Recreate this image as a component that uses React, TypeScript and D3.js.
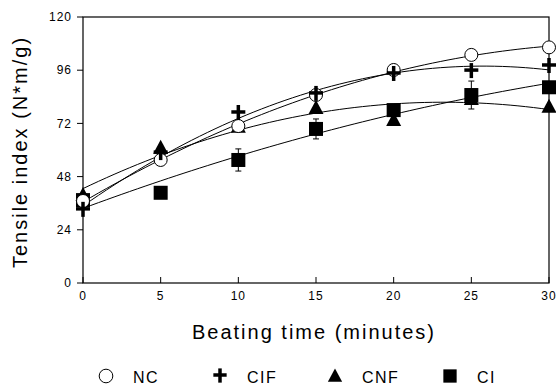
import * as d3 from "d3";

const WIDTH = 556;
const HEIGHT = 387;
const MARGIN = { top: 17, right: 7, bottom: 104, left: 83 };

// beating time (minutes)
const times = [0, 5, 10, 15, 20, 25, 30];
const yTicks = [0, 24, 48, 72, 96, 120];

// tensile index (N*m/g)
const nc = [37, 55.5, 70.8, 84.8, 96.1, 102.9, 106.3];
const cif = [33, 58.6, 76.7, 85.3, 94.3, 95.6, 97.9];
const cnf = [39.7, 61, 70.5, 78.9, 73.5, 83, 79.5];
const ci = [37.4, 40.7, 55.5, 69.5, 78, 84.8, 88.3];

// error bars (half width), 0 = none visible
const ncErr = [0, 0, 0, 0, 0, 0, 1.5];
const ciErr = [0, 0, 5, 4.5, 0, 6.3, 0];

const seriesNames = ["NC", "CIF", "CNF", "CI"];

const FONT = "'Liberation Sans', Arial, Helvetica, sans-serif";

// least squares quadratic fit, as the fitted curves of the original
function quadFit(xs: number[], ys: number[]) {
  const s = [0, 0, 0, 0, 0];
  const t = [0, 0, 0];
  xs.forEach((x, i) => {
    for (let k = 0; k < 5; k++) s[k] += Math.pow(x, k);
    for (let k = 0; k < 3; k++) t[k] += Math.pow(x, k) * ys[i];
  });
  const m = [
    [s[0], s[1], s[2], t[0]],
    [s[1], s[2], s[3], t[1]],
    [s[2], s[3], s[4], t[2]],
  ];
  for (let c = 0; c < 3; c++) {
    for (let r = c + 1; r < 3; r++) {
      const f = m[r][c] / m[c][c];
      for (let k = c; k < 4; k++) m[r][k] -= f * m[c][k];
    }
  }
  const b = [0, 0, 0];
  for (let r = 2; r >= 0; r--) {
    let v = m[r][3];
    for (let k = r + 1; k < 3; k++) v -= m[r][k] * b[k];
    b[r] = v / m[r][r];
  }
  return (x: number) => b[0] + b[1] * x + b[2] * x * x;
}

function Marker({ kind, x, y, s = 1 }: { kind: string; x: number; y: number; s?: number }) {
  if (kind === "NC")
    return <circle cx={x} cy={y} r={6.5 * s} fill="white" stroke="black" strokeWidth={1} />;
  if (kind === "CIF")
    return (
      <g stroke="black" strokeWidth={3.5}>
        <line x1={x - 7 * s} x2={x + 7 * s} y1={y - 1} y2={y - 1} />
        <line x1={x} x2={x} y1={y - 8 * s} y2={y + 7 * s} />
      </g>
    );
  if (kind === "CNF")
    return (
      <path
        d={`M${x},${y - 8 * s}L${x + 7.5 * s},${y + 6 * s}L${x - 7.5 * s},${y + 6 * s}Z`}
        fill="black"
      />
    );
  return <rect x={x - 7 * s} y={y - 7 * s} width={14 * s} height={14 * s} fill="black" />;
}

export default function App() {
  const x = d3
    .scaleLinear()
    .domain([0, 30])
    .range([MARGIN.left, WIDTH - MARGIN.right]);
  const y = d3
    .scaleLinear()
    .domain([0, 120])
    .range([HEIGHT - MARGIN.bottom, MARGIN.top]);

  const all = [nc, cif, cnf, ci];
  const samples = d3.range(0, 30.01, 0.5);
  const line = d3
    .line<number[]>()
    .x((d) => x(d[0]))
    .y((d) => y(d[1]));

  const x0 = x(0);
  const x1 = x(30);
  const y0 = y(0);
  const y1 = y(120);

  const errBar = (vals: number[], errs: number[]) =>
    vals.map((v, i) =>
      errs[i] > 0 ? (
        <g key={i} stroke="black" strokeWidth={1}>
          <line x1={x(times[i])} x2={x(times[i])} y1={y(v + errs[i])} y2={y(v - errs[i])} />
          <line x1={x(times[i]) - 3} x2={x(times[i]) + 3} y1={y(v + errs[i])} y2={y(v + errs[i])} />
          <line x1={x(times[i]) - 3} x2={x(times[i]) + 3} y1={y(v - errs[i])} y2={y(v - errs[i])} />
        </g>
      ) : null
    );

  const legendX = [106, 220, 335, 450];

  return (
    <svg
      width={WIDTH}
      height={HEIGHT}
      style={{ position: "absolute", left: 0, top: 0, background: "white" }}
      fontFamily={FONT}
    >
      <rect x={x0} y={y1} width={x1 - x0} height={y0 - y1} fill="none" stroke="black" strokeWidth={1.2} />

      {/* y axis ticks (outward) */}
      {yTicks.map((t) => (
        <g key={t}>
          <line x1={x0 - 6} x2={x0} y1={y(t)} y2={y(t)} stroke="black" />
          <text
            x={x0 - 11}
            y={y(t)}
            dy="0.35em"
            textAnchor="end"
            fontSize={12}
            letterSpacing={1}
          >
            {t}
          </text>
        </g>
      ))}

      {/* x axis ticks (inward) */}
      {times.map((t) => (
        <g key={t}>
          <line x1={x(t)} x2={x(t)} y1={y0} y2={y0 - 6} stroke="black" />
          <text x={x(t)} y={y0 + 13} dy="0.35em" textAnchor="middle" fontSize={12} letterSpacing={1}>
            {t}
          </text>
        </g>
      ))}

      {/* fitted curves */}
      {all.map((vals, i) => {
        const f = quadFit(times, vals);
        return (
          <path
            key={i}
            d={line(samples.map((s) => [s, f(s)])) || ""}
            fill="none"
            stroke="black"
            strokeWidth={1}
          />
        );
      })}

      {errBar(nc, ncErr)}
      {errBar(ci, ciErr)}

      {ci.map((v, i) => (
        <Marker key={"ci" + i} kind="CI" x={x(times[i])} y={y(v)} />
      ))}
      {cnf.map((v, i) => (
        <Marker key={"cnf" + i} kind="CNF" x={x(times[i])} y={y(v)} />
      ))}
      {nc.map((v, i) => (
        <Marker key={"nc" + i} kind="NC" x={x(times[i])} y={y(v)} />
      ))}
      {cif.map((v, i) => (
        <Marker key={"cif" + i} kind="CIF" x={x(times[i])} y={y(v)} />
      ))}

      {/* axis titles */}
      <text x={314} y={332} dy="0.35em" textAnchor="middle" fontSize={20} letterSpacing={2}>
        Beating time (minutes)
      </text>
      <text
        transform={`translate(20, 152) rotate(-90)`}
        dy="0.35em"
        textAnchor="middle"
        fontSize={20}
        letterSpacing={2}
      >
        Tensile index (N*m/g)
      </text>

      {/* legend */}
      {seriesNames.map((name, i) => (
        <g key={name}>
          <Marker kind={name} x={legendX[i]} y={376} s={name === "NC" ? 1.05 : 0.95} />
          <text x={legendX[i] + 27} y={377} dy="0.35em" fontSize={16} letterSpacing={1.5}>
            {name}
          </text>
        </g>
      ))}
    </svg>
  );
}
